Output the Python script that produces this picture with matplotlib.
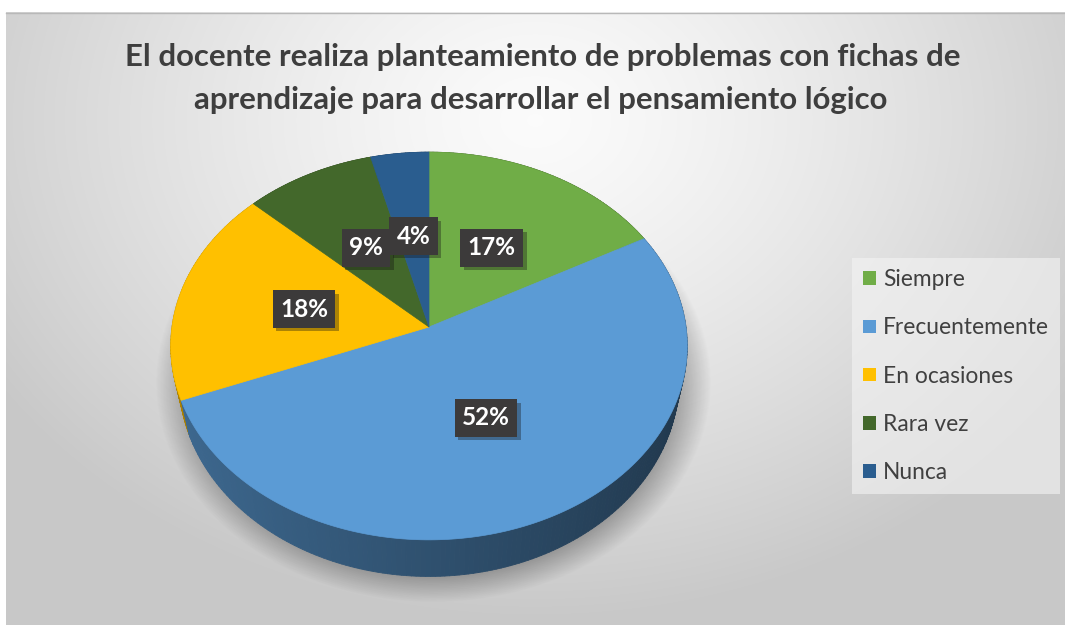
import numpy as np
import matplotlib.pyplot as plt
import matplotlib.patheffects as pe
from matplotlib.collections import PolyCollection
from matplotlib.patches import Patch, Polygon
from matplotlib.colors import to_rgb

# Data
categories = ['Siempre', 'Frecuentemente', 'En ocasiones', 'Rara vez', 'Nunca']
percent = [17, 52, 18, 9, 4]
colors = ['#70AD47', '#5B9BD5', '#FFC000', '#43682B', '#2A5D8F']
title_lines = ['El docente realiza planteamiento de problemas con fichas de',
               'aprendizaje para desarrollar el pensamiento lógico']

W, H = 1065, 625
FONT = 'Lato'

# 3D pie geometry (pixels)
CX, CY = 429, 327
RX, RY = 257, 192
K = 0.098      # perspective strength
DEPTH = 33
SHRINK = 0.968  # bottom rim looks a bit narrower (further from viewer)


def proj(u, v):
    w = 1 - K * v
    return CX + RX * u / w, CY + RY * v / w


def proj_bottom(u, v):
    x, y = proj(u, v)
    return CX + (x - CX) * SHRINK, y + DEPTH / (1 - K * v)


fig = plt.figure(figsize=(W / 100, H / 100), dpi=100)
fig.patch.set_facecolor('white')
ax = fig.add_axes([0, 0, 1, 1])
ax.set_xlim(0, W)
ax.set_ylim(H, 0)
ax.axis('off')

# background gradient
yy, xx = np.mgrid[0:H, 0:W]
d = np.sqrt(((xx - 535) / 640.0) ** 2 + ((yy - 120) / 500.0) ** 2)
val = 0.985 - 0.2 * np.clip(d, 0, 1) ** 1.3
bg = np.dstack([val, val, val])
ax.imshow(bg[12:, 6:], extent=(6, W, H, 12), zorder=0, interpolation='bilinear')
ax.plot([6, W], [12.5, 12.5], color='#b8b8b8', lw=1, zorder=1)

# soft shadow beneath the pie
r = np.sqrt(((xx - 433) / 278.0) ** 2 + ((yy - 382) / 220.0) ** 2)
sh_alpha = 0.3 * np.clip((1.0 - r) / 0.13, 0, 1)
shadow = np.zeros((H, W, 4))
shadow[..., 3] = sh_alpha
ax.imshow(shadow, extent=(0, W, H, 0), zorder=1, interpolation='bilinear')

# slice angles, clockwise from 12 o'clock
total = float(sum(percent))
bounds = np.concatenate([[0], np.cumsum(percent)]) / total * 2 * np.pi

# side walls
quads, qcols, qdepth = [], [], []
for i, col in enumerate(colors):
    base = np.array(to_rgb(col))
    t = np.linspace(bounds[i], bounds[i + 1], max(3, int(np.degrees(bounds[i + 1] - bounds[i])) + 2))
    for a0, a1 in zip(t[:-1], t[1:]):
        u0, v0 = np.sin(a0), -np.cos(a0)
        u1, v1 = np.sin(a1), -np.cos(a1)
        quads.append([proj(u0, v0), proj(u1, v1), proj_bottom(u1, v1), proj_bottom(u0, v0)])
        um = 0.5 * (u0 + u1)
        f = 0.52 - 0.16 * um
        qcols.append(np.clip(base * f, 0, 1))
        qdepth.append(0.5 * (v0 + v1))
order = np.argsort(qdepth)
pc = PolyCollection([quads[j] for j in order], facecolors=[qcols[j] for j in order],
                    edgecolors=[qcols[j] for j in order], linewidths=0.6, zorder=2)
ax.add_collection(pc)

# top faces
for i, col in enumerate(colors):
    t = np.linspace(bounds[i], bounds[i + 1], 200)
    pts = [proj(0, 0)] + [proj(np.sin(a), -np.cos(a)) for a in t]
    ax.add_patch(Polygon(pts, closed=True, fc=col, ec=col, lw=0.5, zorder=3))

# data labels
for i, p in enumerate(percent):
    mid = 0.5 * (bounds[i] + bounds[i + 1])
    lx, ly = proj(0.5 * np.sin(mid), -0.5 * np.cos(mid))
    txt = ax.text(lx, ly, f'{p}%', ha='center', va='center', fontsize=17.5,
                  fontweight='bold', family=FONT, color='white', zorder=5,
                  bbox=dict(boxstyle='square,pad=0.3', fc='#3c3a3a', ec='none'))
    txt.get_bbox_patch().set_path_effects(
        [pe.SimplePatchShadow(offset=(2.5, -2.5), alpha=0.35), pe.Normal()])

# title
ax.text(543, 57, title_lines[0], ha='center', va='center', fontsize=22.4,
        fontweight='bold', family=FONT, color='#3e3e3e', zorder=5)
ax.text(541, 100, title_lines[1], ha='center', va='center', fontsize=22.4,
        fontweight='bold', family=FONT, color='#3e3e3e', zorder=5)

# legend
handles = [Patch(facecolor=c, edgecolor='none', label=n) for c, n in zip(colors, categories)]
leg = ax.legend(handles=handles, loc='upper left', bbox_to_anchor=(852 / W, 1 - 258 / H),
                frameon=True, fancybox=False, framealpha=0.6, edgecolor='none',
                prop={'family': FONT, 'size': 16.4}, labelcolor='#404040',
                handlelength=0.55, handleheight=0.55, handletextpad=0.3,
                labelspacing=1.19, borderpad=0.5, borderaxespad=0)
leg.get_frame().set_facecolor('#f4f4f4')
leg.set_zorder(6)

fig.savefig('out.png', dpi=100)
